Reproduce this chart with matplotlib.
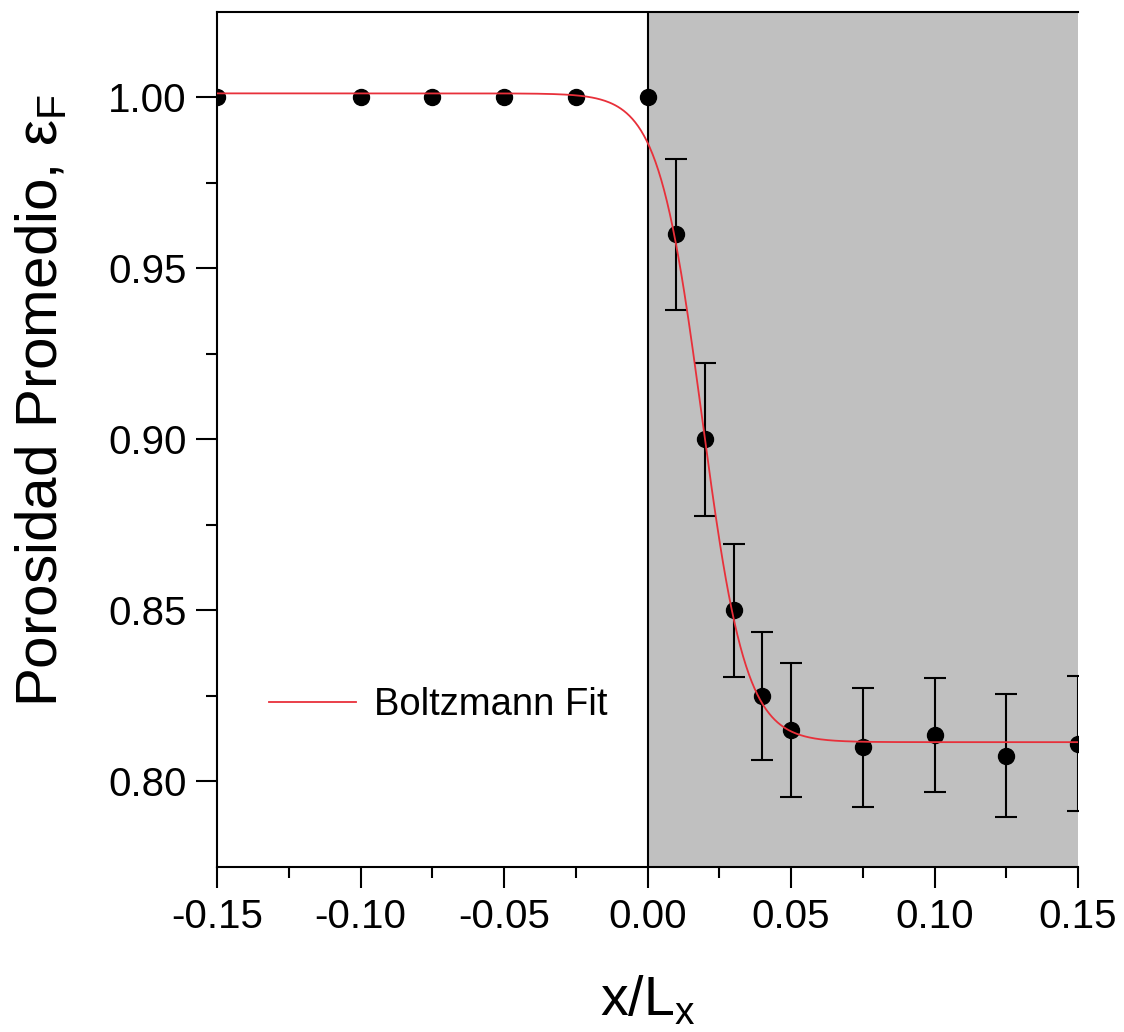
import numpy as np
import matplotlib
matplotlib.use('Agg')
import matplotlib.pyplot as plt

plt.rcParams['font.family'] = ['Liberation Sans', 'DejaVu Sans']
plt.rcParams['mathtext.fontset'] = 'custom'
plt.rcParams['mathtext.rm'] = 'Liberation Sans'

# measured points (x/Lx, porosity, error)
x_pos = [-0.15, -0.10, -0.075, -0.05, -0.025, 0.0, 0.01, 0.02, 0.03, 0.04, 0.05, 0.075, 0.10, 0.125, 0.15]
porosity = [1.0, 1.0, 1.0, 1.0, 1.0, 1.0, 0.960, 0.900, 0.850, 0.825, 0.815, 0.810, 0.8135, 0.8075, 0.811]
err = [0, 0, 0, 0, 0, 0, 0.022, 0.0225, 0.0195, 0.0186, 0.0196, 0.0174, 0.0167, 0.018, 0.0197]

# Boltzmann fit parameters
A1 = 1.0012
A2 = 0.8115
x0 = 0.0190
dx = 0.0076

fig = plt.figure(figsize=(11.24, 10.32), dpi=100)
ax = fig.add_axes([0.1931, 0.1599, 0.766, 0.8285])

ax.axvspan(0.0, 0.15, color='#c0c0c0', zorder=0, lw=0)
ax.axvline(0.0, color='black', lw=1.5, zorder=1)

# error bars only where there is an error
xe = [x for x, e in zip(x_pos, err) if e > 0]
ye = [y for y, e in zip(porosity, err) if e > 0]
ee = [e for e in err if e > 0]
ax.errorbar(xe, ye, yerr=ee, fmt='none', ecolor='black', elinewidth=1.5,
            capsize=8, capthick=1.5, zorder=2)
ax.plot(x_pos, porosity, 'o', color='black', markersize=11.5, zorder=3)

xf = np.linspace(-0.15, 0.15, 600)
yf = A2 + (A1 - A2) / (1 + np.exp((xf - x0) / dx))
ax.plot(xf, yf, color='#e8303a', lw=1.3, zorder=4, label='Boltzmann Fit')

ax.set_xlim(-0.15, 0.15)
ax.set_ylim(0.775, 1.025)
ax.set_xticks([-0.15, -0.10, -0.05, 0.0, 0.05, 0.10, 0.15])
ax.set_xticks(np.arange(-0.125, 0.15, 0.05), minor=True)
ax.set_yticks([0.80, 0.85, 0.90, 0.95, 1.00])
ax.set_yticks([0.825, 0.875, 0.925, 0.975], minor=True)
ax.xaxis.set_major_formatter(matplotlib.ticker.FormatStrFormatter('%.2f'))
ax.yaxis.set_major_formatter(matplotlib.ticker.FormatStrFormatter('%.2f'))

ax.spines['right'].set_visible(False)
for s in ['left', 'bottom', 'top']:
    ax.spines[s].set_linewidth(1.5)
ax.tick_params(which='major', direction='out', length=15, width=1.5, labelsize=29, pad=7)
ax.tick_params(which='minor', direction='out', length=8, width=1.5)
ax.tick_params(top=False, right=False)

ax.set_xlabel('x/L$_\\mathregular{x}$', fontsize=40, labelpad=28)
ax.set_ylabel('Porosidad Promedio, ε$_\\mathregular{F}$', fontsize=42)
ax.yaxis.set_label_coords(-0.172, 0.546)

ax.legend(loc='lower left', bbox_to_anchor=(0.02, 0.128), frameon=False, fontsize=27.5,
          handlelength=2.3, handletextpad=0.45)

fig.savefig('out.png', dpi=100)
